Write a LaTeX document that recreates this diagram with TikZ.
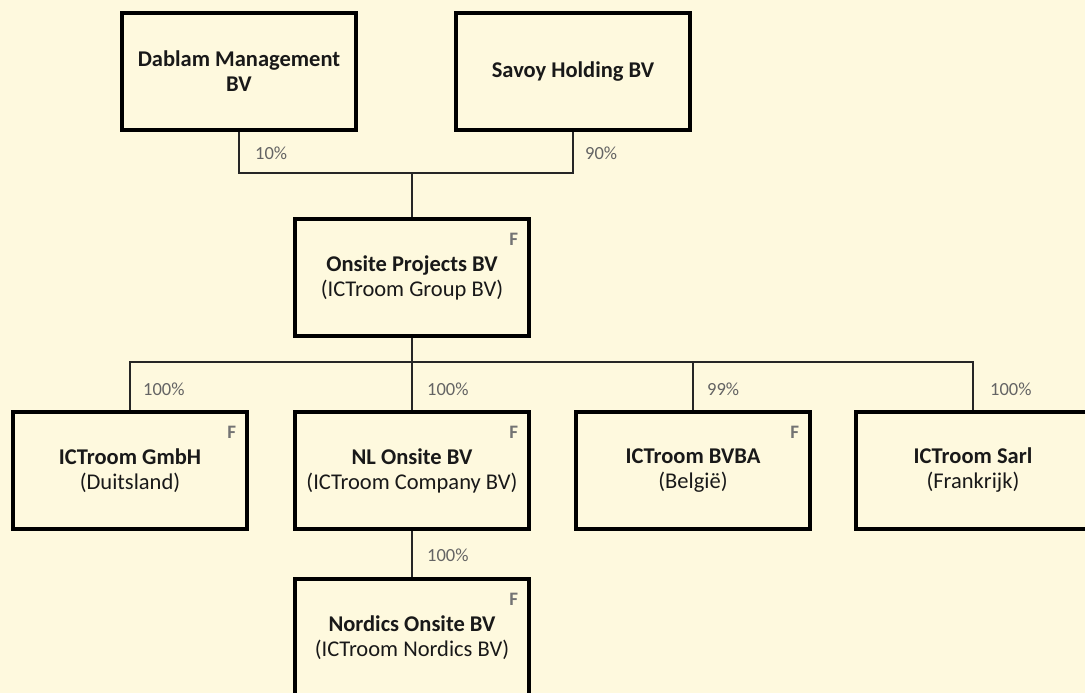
\documentclass[tikz,border=0pt]{standalone}
\usepackage{fontspec}
\setmainfont{Carlito}
\definecolor{paper}{RGB}{254,249,222}
\definecolor{pctgrey}{RGB}{100,100,100}
\definecolor{fgrey}{RGB}{115,115,115}

\begin{document}
\begin{tikzpicture}
  [x=1pt, y=-1pt,
   company/.style={draw, line width=3.4pt, minimum width=234pt, minimum height=117pt,
     align=center, inner sep=0pt, text=black!90,
     font=\fontsize{22.5}{25}\selectfont},
   share/.style={anchor=west, text=pctgrey, inner sep=0pt, font=\fontsize{18.5}{20}\selectfont},
   fmark/.style={text=fgrey, inner sep=0pt, font=\fontsize{19}{20}\selectfont\bfseries},
   link/.style={line width=1.4pt, black!85}]
  \useasboundingbox (0, 0) rectangle (1085, 693);
  \clip (0, 0) rectangle (1085, 693);
  \fill[paper] (0, 0) rectangle (1085, 693);

  % owners
  \node[company] (dablam) at (239, 71.5) {\textbf{Dablam Management}\\\textbf{BV}};
  \node[company] (savoy) at (573, 71.5) {\textbf{Savoy Holding\ BV}};

  % holding
  \node[company] (onsite) at (412, 277.5) {\textbf{Onsite Projects BV}\\(ICTroom Group BV)};
  \node[fmark] at ([shift={(-17, 22)}]onsite.north east) {F};

  % subsidiaries
  \node[company] (gmbh) at (130, 470.5) {\textbf{ICTroom GmbH}\\(Duitsland)};
  \node[company] (nlonsite) at (412, 470.5) {\textbf{NL Onsite BV}\\(ICTroom Company BV)};
  \node[company] (bvba) at (693, 470.5) {\textbf{ICTroom BVBA}\\(België)};
  \node[company] (sarl) at (973, 470.5) {\textbf{ICTroom Sarl}\\(Frankrijk)};
  \node[fmark] at ([shift={(-17, 22)}]gmbh.north east) {F};
  \node[fmark] at ([shift={(-17, 22)}]nlonsite.north east) {F};
  \node[fmark] at ([shift={(-17, 22)}]bvba.north east) {F};

  \node[company] (nordics) at (412, 637.5) {\textbf{Nordics Onsite BV}\\(ICTroom Nordics BV)};
  \node[fmark] at ([shift={(-17, 22)}]nordics.north east) {F};

  % connectors
  \coordinate (topjoin) at (412, 173);
  \coordinate (bus) at (412, 362);
  \draw[link] (dablam.south) |- (topjoin) -| (savoy.south);
  \draw[link] (topjoin) -- (onsite.north);
  \draw[link] (onsite.south) -- (nlonsite.north);
  \draw[link] (gmbh.north) |- (bus) -| (sarl.north);
  \draw[link] (bvba.north) -- (bvba.north |- bus);
  \draw[link] (nlonsite.south) -- (nordics.north);

  % shares
  \node[share] (p10) at ([xshift=16pt]dablam.south |- 0, 153) {10\%};
  \node[share] (p90) at ([xshift=12pt]savoy.south |- 0, 153) {90\%};
  \node[share] (pgmbh) at ([xshift=13pt]gmbh.north |- 0, 389) {100\%};
  \node[share] (pnl) at ([xshift=15pt]nlonsite.north |- 0, 389) {100\%};
  \node[share] (pbvba) at ([xshift=14pt]bvba.north |- 0, 389) {99\%};
  \node[share] (psarl) at ([xshift=17pt]sarl.north |- 0, 389) {100\%};
  \node[share] (pnordics) at ([xshift=15pt]nlonsite.south |- 0, 555) {100\%};
\end{tikzpicture}
\end{document}
